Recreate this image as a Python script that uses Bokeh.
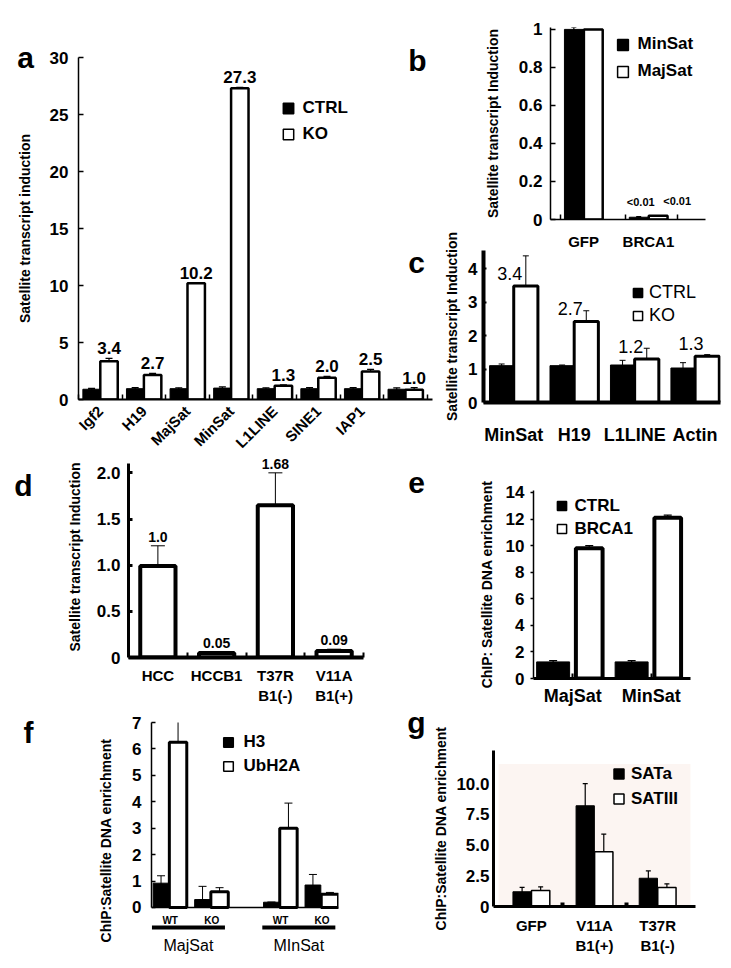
import math
from bokeh.plotting import figure
from bokeh.models import (Range1d, FixedTicker, CustomJSTickFormatter, ColumnDataSource,
                          Whisker, TeeHead, Legend, LegendItem, Span, BoxAnnotation, LinearAxis)
from bokeh.layouts import column
from bokeh.embed import file_html
from bokeh.resources import INLINE
from bokeh.core.properties import value

FONT = "Liberation Sans"

# ---------------- data ----------------
# panel a
a_cats = ["Igf2", "H19", "MajSat", "MinSat", "L1LINE", "SINE1", "IAP1", ""]
a_ctrl = [0.9, 0.95, 0.95, 1.0, 0.95, 0.95, 0.95, 0.9]
a_ctrl_err = [0.08, 0.1, 0.08, 0.1, 0.08, 0.1, 0.1, 0.12]
a_ko = [3.35, 2.15, 10.2, 27.3, 1.2, 1.9, 2.45, 0.85]
a_ko_err = [0.25, 0.15, 0.05, 0.08, 0.08, 0.12, 0.2, 0.2]
a_labels = ["3.4", "2.7", "10.2", "27.3", "1.3", "2.0", "2.5", "1.0"]

# panel b
b_cats = ["GFP", "BRCA1"]
b_minsat = [1.0, 0.012]
b_minsat_err = [0.01, 0.003]
b_majsat = [1.0, 0.02]
b_labels = ["<0.01", "<0.01"]

# panel c
c_cats = ["MinSat", "H19", "L1LINE", "Actin"]
c_ctrl = [1.1, 1.1, 1.12, 1.03]
c_ctrl_err = [0.05, 0.02, 0.14, 0.16]
c_ko = [3.48, 2.42, 1.3, 1.38]
c_ko_err = [0.9, 0.32, 0.32, 0.05]
c_labels = ["3.4", "2.7", "1.2", "1.3"]

# panel d
d_cats = ["HCC", "HCCB1", "T37R\nB1(-)", "V11A\nB1(+)"]
d_vals = [0.99, 0.05, 1.65, 0.07]
d_hi = [1.21, 0.06, 2.0, 0.09]
d_lo = [0.75, 0.04, 1.27, 0.05]
d_labels = ["1.0", "0.05", "1.68", "0.09"]

# panel e
e_cats = ["MajSat", "MinSat"]
e_ctrl = [1.25, 1.25]
e_ctrl_err = [0.1, 0.1]
e_brca1 = [9.8, 12.1]
e_brca1_err = [0.2, 0.2]

# panel f
f_groups = ["MajSat", "MInSat"]
f_subs = ["WT", "KO"]
f_h3 = [0.92, 0.3, 0.2, 0.85]
f_h3_hi = [1.2, 0.8, 0.2, 1.25]
f_h3_lo = [0.65, 0.3, 0.2, 0.5]
f_ub = [6.25, 0.6, 3.0, 0.5]
f_ub_hi = [7.05, 0.75, 3.95, 0.57]
f_ub_lo = [4.15, 0.45, 2.0, 0.4]

# panel g
g_cats = ["GFP", "V11A\nB1(+)", "T37R\nB1(-)"]
g_sata = [1.2, 8.2, 2.3]
g_sata_err = [0.35, 1.8, 0.6]
g_sat3 = [1.3, 4.45, 1.55]
g_sat3_hi = [1.6, 5.9, 1.85]
g_sat3_lo = [0.9, 3.0, 1.35]

panel_letters = ["a", "b", "c", "d", "e", "f", "g"]


# ---------------- helpers ----------------
def base_fig(left, top, w, h, xr, yr, bl, br, bt, bb):
    p = figure(width=w, height=h, x_range=xr, y_range=yr, output_backend="svg",
               toolbar_location=None, min_border_left=bl, min_border_right=br,
               min_border_top=bt, min_border_bottom=bb, frame_align=False)
    p.styles = {"position": "absolute", "left": f"{left}px", "top": f"{top}px"}
    p.outline_line_color = None
    p.xgrid.visible = False
    p.ygrid.visible = False
    p.background_fill_color = None
    p.border_fill_color = None
    for ax in (p.xaxis[0], p.yaxis[0]):
        ax.axis_line_color = "black"
        ax.major_tick_line_color = "black"
        ax.minor_tick_line_color = "black"
        ax.major_label_text_font = FONT
        ax.major_label_text_font_style = "bold"
        ax.major_label_text_color = "black"
        ax.axis_label_text_font = FONT
        ax.axis_label_text_font_style = "bold"
        ax.axis_label_text_color = "black"
    return p


def style_y(p, ticks, code, title, title_px, tick_px, standoff, title_standoff,
            tick_in, tick_out, line_w, tick_w=1.5, bounds=None):
    ax = p.yaxis[0]
    ax.ticker = FixedTicker(ticks=ticks)
    if code:
        ax.formatter = CustomJSTickFormatter(code=code)
    ax.major_label_text_font_size = f"{tick_px}px"
    ax.major_label_standoff = standoff
    ax.major_tick_in = tick_in
    ax.major_tick_out = tick_out
    ax.major_tick_line_width = tick_w
    if tick_in == 0 and tick_out == 0:
        ax.major_tick_line_color = None
    ax.axis_line_width = line_w
    if title:
        ax.axis_label = title
        ax.axis_label_text_font_size = f"{title_px}px"
        ax.axis_label_standoff = title_standoff
    if bounds is not None:
        ax.bounds = bounds


def style_x(p, labels, tick_px, standoff, line_w, minor=None, minor_in=5, minor_w=1.5,
            major_in=0, major_w=1.5, orientation="horizontal"):
    ax = p.xaxis[0]
    idx = list(range(len(labels)))
    ax.ticker = FixedTicker(ticks=idx, minor_ticks=minor or [])
    ax.formatter = CustomJSTickFormatter(args=dict(labels=labels),
                                         code="return labels[Math.round(tick)] || ''")
    ax.major_label_text_font_size = f"{tick_px}px"
    ax.major_label_standoff = standoff
    ax.major_label_orientation = orientation
    if major_in:
        ax.major_tick_in = major_in
        ax.major_tick_out = 0
        ax.major_tick_line_width = major_w
    else:
        ax.major_tick_line_color = None
    ax.minor_tick_in = minor_in
    ax.minor_tick_out = 0
    ax.minor_tick_line_width = minor_w
    ax.axis_line_width = line_w


def whisk(p, x, lo, hi, lw=1.2, head=7):
    src = ColumnDataSource(dict(x=x, lo=lo, hi=hi))
    p.add_layout(Whisker(source=src, base="x", lower="lo", upper="hi",
                         line_width=lw, line_color="black",
                         upper_head=TeeHead(size=head, line_width=lw, line_color="black"),
                         lower_head=TeeHead(size=head, line_width=lw, line_color="black")))


def vlabels(p, x, y, texts, px, style="bold", yoff=-5, xoff=0, baseline="bottom"):
    src = ColumnDataSource(dict(x=x, y=y, t=texts))
    p.text(x="x", y="y", text="t", source=src, text_font=value(FONT),
           text_font_style=style, text_font_size=f"{px}px", text_align="center",
           text_baseline=baseline, y_offset=yoff, x_offset=xoff, text_color="black")


def add_legend(p, series, frame_left, frame_bottom, sq_cx, first_cy, pitch, text_left,
               font_px, style="bold", dy=0):
    """series: list of (label, fill, xs, ys); legend keys are size-0 squares on the bars
    (the legend draws each key at 0.4 x the glyph box)."""
    box = pitch
    items = []
    for lab, fill, xs, ys in series:
        r = p.scatter(x=xs, y=ys, marker="square", size=0, fill_color=fill,
                      line_color="black", line_width=1.5)
        items.append(LegendItem(label=lab, renderers=[r]))
    leg = Legend(items=items,
                 location=(sq_cx - box / 2 - frame_left,
                           frame_bottom - (first_cy + dy + 1.5 * box + 6)),
                 orientation="vertical", glyph_width=box, glyph_height=box, label_height=box,
                 spacing=0, padding=0, margin=0,
                 label_standoff=round(text_left - (sq_cx + box / 2)),
                 border_line_color=None, background_fill_alpha=0,
                 label_text_font=FONT, label_text_font_style=style,
                 label_text_font_size=f"{font_px}px", label_text_color="black")
    p.add_layout(leg)


def letter_fig(txt, cx, baseline):
    W, Hh, top_off = 60, 70, 44
    p = figure(width=W, height=Hh, x_range=Range1d(0, W), y_range=Range1d(0, Hh),
               output_backend="svg", toolbar_location=None, min_border=0, frame_align=False)
    p.styles = {"position": "absolute", "left": f"{cx - W // 2}px", "top": f"{baseline - top_off}px"}
    p.axis.visible = False
    p.grid.visible = False
    p.outline_line_color = None
    p.background_fill_color = None
    p.border_fill_color = None
    p.text(x=[W / 2], y=[Hh - top_off], text=[txt], text_font=value(FONT), text_font_style="bold",
           text_font_size="30px", text_align="center", text_baseline="alphabetic",
           text_color="black")
    return p


figs = []

# ---------------- panel a ----------------
ia = list(range(len(a_cats)))
pa = base_fig(0, 0, 440, 460, Range1d(-0.5, 7.62), Range1d(0, 30), 78, 8, 57, 54)
xa_c = [i - 0.2 for i in ia]
xa_k = [i + 0.2 for i in ia]
pa.vbar(x=xa_c, top=a_ctrl, width=0.4, fill_color="black", line_color="black", line_width=1)
pa.vbar(x=xa_k, top=a_ko, width=0.4, fill_color="white", line_color="black", line_width=2.5)
whisk(pa, xa_c, [v - e for v, e in zip(a_ctrl, a_ctrl_err)], [v + e for v, e in zip(a_ctrl, a_ctrl_err)])
whisk(pa, xa_k, [v - e for v, e in zip(a_ko, a_ko_err)], [v + e for v, e in zip(a_ko, a_ko_err)])
vlabels(pa, xa_k, [v + e for v, e in zip(a_ko, a_ko_err)], a_labels, 17, yoff=-4)
style_y(pa, [0, 5, 10, 15, 20, 25, 30], None, "Satellite transcript induction", 14, 17,
        10, 14, 5, 0, 1.5)
style_x(pa, a_cats, 15, 3, 2, minor=[i + 0.5 for i in range(-1, len(a_cats))],
        orientation=math.pi / 4)
add_legend(pa, [("CTRL", "black", xa_c, a_ctrl), ("KO", "white", xa_k, a_ko)],
           78, 406, 287.5, 107.5, 26, 303, 17, dy=1)
figs.append(pa)

# ---------------- panel b ----------------
ib = list(range(len(b_cats)))
pb = base_fig(470, 0, 253, 252, Range1d(-0.51, 1.88), Range1d(0, 1.01), 80, 18, 27, 28)
xb_m = [i - 0.15 for i in ib]
xb_j = [i + 0.15 for i in ib]
pb.vbar(x=xb_m, top=b_minsat, width=0.29, fill_color="black", line_color="black", line_width=1)
pb.vbar(x=xb_j, top=b_majsat, width=0.29, fill_color="white", line_color="black", line_width=2.5)
whisk(pb, xb_m, [v - e for v, e in zip(b_minsat, b_minsat_err)],
      [v + e for v, e in zip(b_minsat, b_minsat_err)], head=5)
vlabels(pb, xb_m[1:], b_minsat[1:], b_labels[:1], 11, yoff=-9, xoff=2)
vlabels(pb, xb_j[1:], b_majsat[1:], b_labels[1:], 11, yoff=-9, xoff=19)
style_y(pb, [0, 0.2, 0.4, 0.6, 0.8, 1.0], "return tick.toFixed(1).replace(/\\.0$/, '')",
        "Satellite transcript Induction", 14, 17, 8, 15, 5, 0, 1.5)
style_x(pb, b_cats, 15, 7, 1.5, minor=[-0.35, 0.65, 1.45])
add_legend(pb, [("MinSat", "black", xb_m, b_minsat), ("MajSat", "white", xb_j, b_majsat)],
           550, 224, 622, 44, 27, 638, 17, dy=-1)
figs.append(pb)

# ---------------- panel c ----------------
ic = list(range(len(c_cats)))
pc = base_fig(435, 205, 290, 245, Range1d(-0.5, 3.42), Range1d(0, 4.54), 48, 5, 45, 48)
xc_c = [i - 0.2 for i in ic]
xc_k = [i + 0.2 for i in ic]
pc.vbar(x=xc_c, top=c_ctrl, width=0.4, fill_color="black", line_color="black", line_width=1)
pc.vbar(x=xc_k, top=c_ko, width=0.4, fill_color="white", line_color="black", line_width=3)
whisk(pc, xc_c, [v - e for v, e in zip(c_ctrl, c_ctrl_err)], [v + e for v, e in zip(c_ctrl, c_ctrl_err)], lw=1, head=6)
whisk(pc, xc_k, [v - e for v, e in zip(c_ko, c_ko_err)], [v + e for v, e in zip(c_ko, c_ko_err)], lw=1, head=6)
vlabels(pc, ic, c_ko, c_labels, 18, style="normal", yoff=-6, xoff=-4)
style_y(pc, [0, 1, 2, 3, 4], None, "Satellite transcript Induction", 14, 17, 6, 5, 3, 0, 4, tick_w=2)
style_x(pc, c_cats, 18, 16, 4)
add_legend(pc, [("CTRL", "black", xc_c, c_ctrl), ("KO", "white", xc_k, c_ko)],
           483, 402, 637.5, 292, 23, 646, 18, style="normal", dy=-6)
figs.append(pc)

# ---------------- panel d ----------------
idd = list(range(len(d_cats)))
pd_ = base_fig(60, 452, 310, 254, Range1d(-0.5, 3.5), Range1d(0, 2.177), 68, 7, 4, 41)
pd_.vbar(x=idd, top=d_vals, width=0.6, fill_color="white", line_color="black", line_width=4)
whisk(pd_, idd, d_lo, d_hi, lw=1, head=14)
vlabels(pd_, idd, d_hi, d_labels, 14, yoff=-4)
style_y(pd_, [0, 0.5, 1, 1.5, 2], "return tick == 0 ? '0' : tick.toFixed(1)",
        "Satellite transcript Induction", 14, 17, 8, 11, 4, 0, 3, tick_w=3, bounds=(0, 2.1))
style_x(pd_, d_cats, 15, 3, 4, minor=[0.5, 1.5, 2.5, 3.5], minor_w=2)
figs.append(pd_)

# ---------------- panel e ----------------
ie = list(range(len(e_cats)))
pe = base_fig(470, 450, 253, 260, Range1d(-0.5, 1.5), Range1d(0, 14.15), 63, 33, 40, 32)
xe_c = [i - 0.25 for i in ie]
xe_b = [i + 0.21 for i in ie]
pe.vbar(x=xe_c, top=e_ctrl, width=0.42, fill_color="black", line_color="black", line_width=1)
pe.vbar(x=xe_b, top=e_brca1, width=0.34, fill_color="white", line_color="black", line_width=4)
whisk(pe, xe_c, [v - e for v, e in zip(e_ctrl, e_ctrl_err)], [v + e for v, e in zip(e_ctrl, e_ctrl_err)], head=8)
whisk(pe, xe_b, [v - e for v, e in zip(e_brca1, e_brca1_err)], [v + e for v, e in zip(e_brca1, e_brca1_err)], head=8)
style_y(pe, list(range(0, 15, 2)), None, "ChIP: Satellite DNA enrichment", 14, 17, 6, 8, 0, 3, 1.5)
style_x(pe, e_cats, 18, 7, 3, major_in=5, major_w=2)
add_legend(pe, [("CTRL", "black", xe_c, e_ctrl), ("BRCA1", "white", xe_b, e_brca1)],
           533, 678, 561, 503.5, 23, 574, 17, dy=-4)
figs.append(pe)

# ---------------- panel f ----------------
GROUP_STRIDE = 2.66
f_pos = [gi * GROUP_STRIDE + si for gi in range(len(f_groups)) for si in range(len(f_subs))]
f_gpos = [gi * GROUP_STRIDE for gi in range(len(f_groups))]
pf = base_fig(80, 700, 300, 260, Range1d(-0.45, 4.056), Range1d(-1.93, 7), 71, 42, 22, 2)
px_per_unit_f = 236 / (7 + 1.93)
xf_h = [x - 0.22 for x in f_pos]
xf_u = [x + 0.19 for x in f_pos]
pf.vbar(x=xf_h, top=f_h3, width=0.38, fill_color="black", line_color="black", line_width=1)
pf.vbar(x=xf_u, top=f_ub, width=0.42, fill_color="white", line_color="black", line_width=3)
whisk(pf, xf_h, f_h3_lo, f_h3_hi, lw=1, head=8)
whisk(pf, xf_u, f_ub_lo, f_ub_hi, lw=1, head=8)
pf.add_layout(Span(location=0, dimension="width", line_color="black", line_width=1.5))
pf.xaxis.visible = False
style_y(pf, list(range(8)), None, None, 14, 17, 10, 20, 4, 0, 1.5, bounds=(0, 7))
title_axis = LinearAxis(ticker=FixedTicker(ticks=[]), axis_line_color=None,
                        major_tick_line_color=None, minor_tick_line_color=None,
                        major_label_text_font_size="0px",
                        axis_label="ChIP:Satellite DNA enrichment", axis_label_standoff=16,
                        axis_label_text_font=FONT, axis_label_text_font_style="bold",
                        axis_label_text_font_size="14px", axis_label_text_color="black")
pf.add_layout(title_axis, "left")
vlabels(pf, f_pos, [0] * len(f_pos), f_subs * len(f_groups), 10, yoff=13, baseline="middle")
under_y = -20 / px_per_unit_f
pf.segment(x0=[g - 0.44 for g in f_gpos], x1=[g + 1.32 for g in f_gpos],
           y0=[under_y] * len(f_gpos), y1=[under_y] * len(f_gpos), line_color="black", line_width=4)
vlabels(pf, [g + 0.44 for g in f_gpos], [0] * len(f_gpos), f_groups, 16, style="normal",
        yoff=38, baseline="middle")
add_legend(pf, [("H3", "black", xf_h, f_h3), ("UbH2A", "white", xf_u, f_ub)],
           151, 958, 227.5, 741, 24, 243, 17, dy=-5)
figs.append(pf)

# ---------------- panel g ----------------
ig = list(range(len(g_cats)))
pg = base_fig(420, 705, 303, 255, Range1d(-0.6, 2.6), Range1d(0, 12.7), 73, 28, 45, 54)
pg.add_layout(BoxAnnotation(left=-0.52, right=2.52, bottom=0, top=11.6, fill_color="#fcf5f2",
                            fill_alpha=1, line_color=None, level="underlay"))
xg_a = [i - 0.147 for i in ig]
xg_3 = [i + 0.147 for i in ig]
pg.vbar(x=xg_a, top=g_sata, width=0.29, fill_color="black", line_color="black", line_width=1)
pg.vbar(x=xg_3, top=g_sat3, width=0.29, fill_color="white", line_color="black", line_width=1.5)
whisk(pg, xg_a, [v - e for v, e in zip(g_sata, g_sata_err)], [v + e for v, e in zip(g_sata, g_sata_err)], lw=1.2, head=5)
whisk(pg, xg_3, g_sat3_lo, g_sat3_hi, lw=1.2, head=5)
style_y(pg, [0, 2.5, 5, 7.5, 10], "return tick == 0 ? '0' : tick.toFixed(1)",
        "ChIP:Satellite DNA enrichment", 14, 17, 4, 4, 0, 0, 3)
style_x(pg, g_cats, 15, 4, 3, minor=[0.5, 1.5], minor_in=4, minor_w=4)
add_legend(pg, [("SATa", "black", xg_a, g_sata), ("SATIII", "white", xg_3, g_sat3)],
           493, 906, 618.5, 771.5, 25, 630, 17, dy=-4)
figs.append(pg)

# ---------------- panel letters ----------------
letter_pos = [(25, 57), (417, 60), (416, 262), (23, 485), (416, 482), (28, 732), (416, 722)]
for txt, (cx, base) in zip(panel_letters, letter_pos):
    figs.append(letter_fig(txt, cx, base))

layout = column(*figs, width=723, height=960)

open("out.html", "w").write(file_html(layout, INLINE))
